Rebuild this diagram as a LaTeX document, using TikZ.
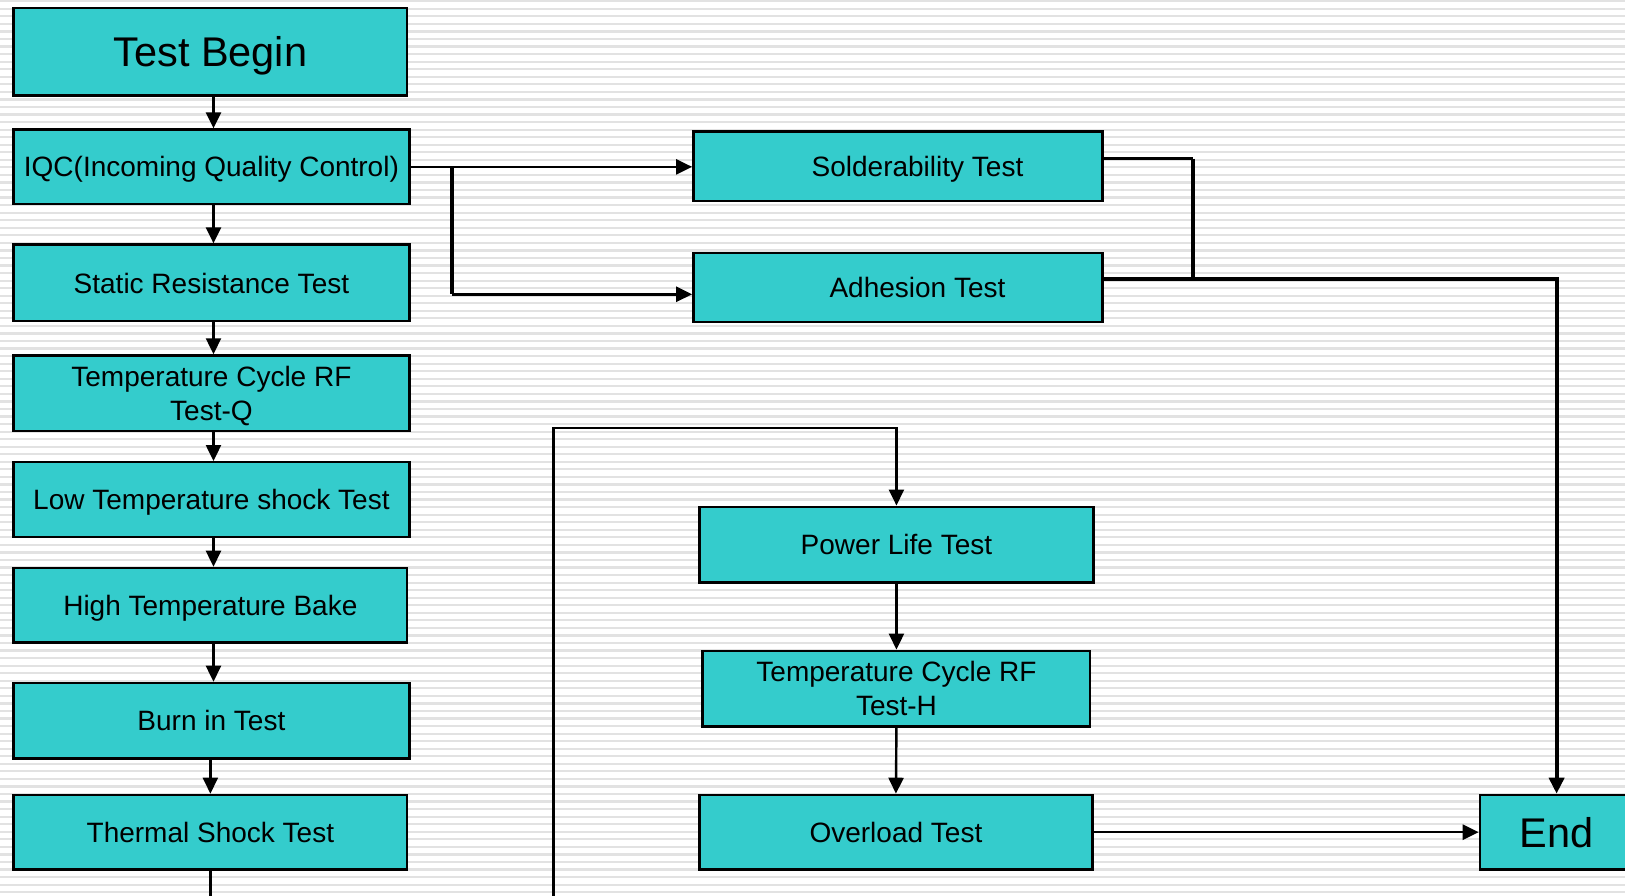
\documentclass[tikz,border=0pt]{standalone}
\usepackage{fontspec}
\setmainfont{Liberation Sans}
\usetikzlibrary{arrows.meta}
\definecolor{boxteal}{RGB}{52,204,204}
\definecolor{stripegray}{RGB}{226,226,226}
\begin{document}
\begin{tikzpicture}[x=1.0364pt,y=-1.0364pt,
  box/.style={draw=black, line width=2.4pt, fill=boxteal, inner sep=0pt, text depth=0pt,
    font=\fontsize{28}{34}\selectfont, align=center, text=black},
  bigbox/.style={box, font=\fontsize{41.5}{48}\selectfont},
  tip/.style={-{Triangle[length=16pt,width=15pt]}},
  arr/.style={line width=2.4pt, tip},
  link/.style={line width=2.6pt},
  thicklink/.style={line width=3.8pt},
  thickarr/.style={line width=3.8pt, tip}]
\useasboundingbox (0,0) rectangle (1568,864);
\clip (0,0) rectangle (1568,864);
\fill[white] (0,0) rectangle (1568,864);
\begin{scope}[x=1pt,y=-1pt]
  \foreach \i in {0,...,119} {\fill[stripegray] (0,{0.2+\i*7.55}) rectangle (1625,{2.4+\i*7.55});}
\end{scope}
% left column
\node[bigbox, minimum width=393.8pt, minimum height=87.1pt] (begin) at (203,50) {Test Begin};
\node[box, minimum width=395.9pt, minimum height=74.6pt] (iqc) at (204,161) {IQC(Incoming Quality Control)};
\node[box, minimum width=395.9pt, minimum height=76.7pt] (static) at (204,273) {Static Resistance Test};
\node[box, minimum width=395.9pt, minimum height=75.7pt] (tcq) at (204,379.5) {Temperature Cycle RF\\Test-Q};
\node[box, minimum width=395.9pt, minimum height=74.6pt] (lowt) at (204,482) {Low Temperature shock Test};
\node[box, minimum width=393.8pt, minimum height=74.6pt] (hight) at (203,584) {High Temperature Bake};
\node[box, minimum width=395.9pt, minimum height=75.7pt] (burn) at (204,695.5) {Burn in Test};
\node[box, minimum width=393.8pt, minimum height=74.6pt] (thermal) at (203,803) {Thermal Shock Test};
% right part
\node[box, minimum width=409.4pt, minimum height=69.4pt] (solder) at (866.5,160.5) {\hspace*{39pt}Solderability Test};
\node[box, minimum width=409.4pt, minimum height=69.4pt] (adhesion) at (866.5,277.5) {\hspace*{39pt}Adhesion Test};
\node[box, minimum width=393.8pt, minimum height=75.7pt] (power) at (865,525.5) {Power Life Test};
\node[box, minimum width=387.6pt, minimum height=75.7pt] (tch) at (865,664.5) {Temperature Cycle RF\\Test-H};
\node[box, minimum width=392.8pt, minimum height=74.6pt] (overload) at (864.5,803) {Overload Test};
\node[bigbox, minimum width=153.4pt, minimum height=74.6pt] (end) at (1502,803) {End};
% helper coordinates
\coordinate (colA) at (206,0);
\coordinate (colB) at (203,0);
\coordinate (brx) at (436,0);
\coordinate (vx) at (1151,0);
\coordinate (adin) at ([yshift=-6.7pt]adhesion.west);
\coordinate (adout) at ([yshift=8.8pt]adhesion.east);
\coordinate (soout) at ([yshift=7.8pt]solder.east);
% left column arrows
\draw[arr] (begin.south -| colA) -- (iqc.north -| colA);
\draw[arr] (iqc.south -| colA) -- (static.north -| colA);
\draw[arr] (static.south -| colA) -- (tcq.north -| colA);
\draw[arr] (tcq.south -| colA) -- (lowt.north -| colA);
\draw[arr] (lowt.south -| colA) -- (hight.north -| colA);
\draw[arr] (hight.south -| colA) -- (burn.north -| colA);
\draw[arr] (burn.south -| colB) -- (thermal.north -| colB);
% thermal shock to power life (runs below the page)
\draw[arr] (thermal.south -| colB) -- ++(0,70) -| (534,413) -| (power.north);
% IQC branches
\draw[link, tip] (iqc.east) -- (iqc.east -| solder.west);
\draw[thicklink] (iqc.east -| brx) -- (adin -| brx);
\draw[link, tip] (adin -| brx) -- (adin);
% merge to End
\draw[link] (soout) -- (soout -| vx);
\draw[thicklink] (soout -| vx) -- (adout -| vx);
\draw[thickarr] (adout) -| (end.north);
% right column
\draw[arr] (power.south) -- (tch.north);
\draw[arr] (tch.south) -- (overload.north);
\draw[arr] (overload.east) -- (end.west);
\end{tikzpicture}
\end{document}
